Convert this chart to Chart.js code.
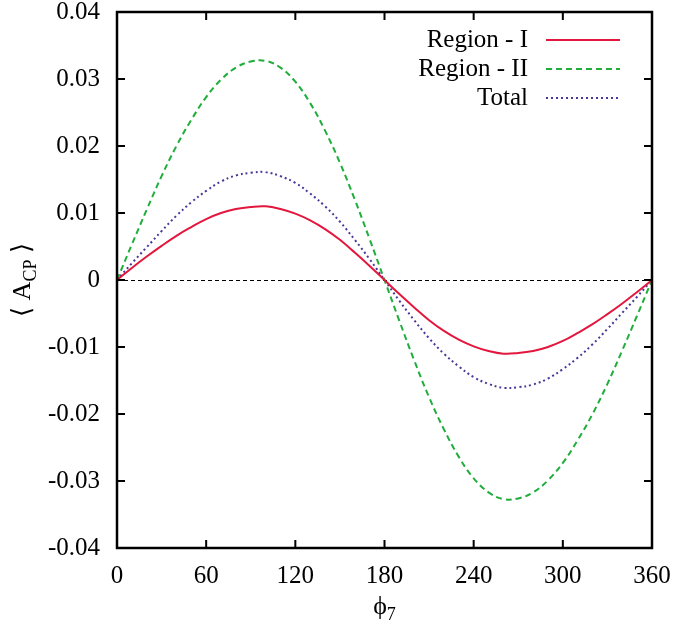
<!DOCTYPE html>
<html>
<head>
<meta charset="utf-8">
<script src="https://cdn.jsdelivr.net/npm/chart.js@4"></script>
<style>
  html, body { margin: 0; padding: 0; background: #fff; }
  #wrap { width: 674px; height: 635px; }
</style>
</head>
<body>
<div id="wrap"><canvas id="acpChart" width="674" height="635"></canvas></div>
<script>
// ---------------- DATA ----------------
const phi = [0, 10, 20, 30, 40, 50, 60, 70, 80, 90, 100, 110, 120, 130, 140, 150, 160, 170, 180,
             190, 200, 210, 220, 230, 240, 250, 260, 270, 280, 290, 300, 310, 320, 330, 340, 350, 360];

const regionI = [0, 0.0018, 0.0035, 0.0051, 0.0066, 0.0079, 0.0091, 0.0100, 0.0106, 0.0109, 0.0110,
                 0.0106, 0.0099, 0.0089, 0.0076, 0.0060, 0.0041, 0.0021, 0,
                 -0.0021, -0.0041, -0.0060, -0.0076, -0.0089, -0.0099, -0.0106, -0.0110, -0.0109,
                 -0.0106, -0.0100, -0.0091, -0.0079, -0.0066, -0.0051, -0.0035, -0.0018, 0];

const regionII = [0, 0.0053, 0.0105, 0.0155, 0.0200, 0.0239, 0.0273, 0.0299, 0.0317, 0.0326, 0.0327,
                  0.0317, 0.0296, 0.0264, 0.0223, 0.0175, 0.0120, 0.0061, 0,
                  -0.0061, -0.0120, -0.0175, -0.0223, -0.0264, -0.0296, -0.0317, -0.0327, -0.0326,
                  -0.0317, -0.0299, -0.0273, -0.0239, -0.0200, -0.0155, -0.0105, -0.0053, 0];

const total = [0, 0.0025, 0.0049, 0.0073, 0.0096, 0.0116, 0.0133, 0.0147, 0.0156, 0.0160, 0.0161,
               0.0155, 0.0145, 0.0129, 0.0110, 0.0087, 0.0060, 0.0031, 0,
               -0.0031, -0.0060, -0.0087, -0.0110, -0.0129, -0.0145, -0.0155, -0.0161, -0.0160,
               -0.0156, -0.0147, -0.0133, -0.0116, -0.0096, -0.0073, -0.0049, -0.0025, 0];

const seriesNames = ["Region - I", "Region - II", "Total"];
const xTicks = [0, 60, 120, 180, 240, 300, 360];
const yTicks = [-0.04, -0.03, -0.02, -0.01, 0, 0.01, 0.02, 0.03, 0.04];

const FONT = "'Liberation Serif', 'DejaVu Serif', serif";

function pts(vals) {
  return phi.map((x, i) => ({ x: x, y: vals[i] }));
}

// ---------------- PLUGIN: frame, ticks, legend, labels ----------------
const decor = {
  id: "decor",
  beforeDatasetsDraw(chart) {
    const { ctx, chartArea: a, scales: { y } } = chart;
    const y0 = Math.round(y.getPixelForValue(0)) + 0.5;
    ctx.save();
    ctx.strokeStyle = "#000";
    ctx.lineWidth = 1;
    ctx.setLineDash([4, 3]);
    ctx.beginPath();
    ctx.moveTo(a.left, y0);
    ctx.lineTo(a.right, y0);
    ctx.stroke();
    ctx.restore();
  },
  afterDatasetsDraw(chart) {
    const { ctx, chartArea: a, scales: { x, y } } = chart;
    ctx.save();
    ctx.strokeStyle = "#000";
    ctx.lineWidth = 2;
    ctx.setLineDash([]);

    // inward ticks on all four sides
    const tl = 8;
    ctx.beginPath();
    xTicks.forEach(v => {
      const px = x.getPixelForValue(v);
      ctx.moveTo(px, a.bottom); ctx.lineTo(px, a.bottom - tl);
      ctx.moveTo(px, a.top); ctx.lineTo(px, a.top + tl);
    });
    yTicks.forEach(v => {
      const py = y.getPixelForValue(v);
      ctx.moveTo(a.left, py); ctx.lineTo(a.left + tl, py);
      ctx.moveTo(a.right, py); ctx.lineTo(a.right - tl, py);
    });
    ctx.stroke();

    ctx.lineWidth = 2.5;
    ctx.strokeRect(a.left, a.top, a.right - a.left, a.bottom - a.top);

    // legend (text left, sample right)
    ctx.font = "25px " + FONT;
    ctx.fillStyle = "#000";
    ctx.textAlign = "right";
    ctx.textBaseline = "middle";
    chart.data.datasets.forEach((ds, i) => {
      const ly = a.top + 28 + i * 29;
      ctx.fillText(ds.label, a.right - 124, ly);
      ctx.strokeStyle = ds.borderColor;
      ctx.lineWidth = ds.borderWidth;
      ctx.setLineDash(ds.borderDash || []);
      ctx.beginPath();
      ctx.moveTo(a.right - 106, ly);
      ctx.lineTo(a.right - 32, ly);
      ctx.stroke();
    });
    ctx.setLineDash([]);

    // x axis title: phi_7
    const cx = (a.left + a.right) / 2;
    ctx.fillStyle = "#000";
    ctx.textAlign = "left";
    ctx.textBaseline = "alphabetic";
    ctx.font = "26px " + FONT;
    const wPhi = ctx.measureText("\u03D5").width;
    ctx.font = "18px " + FONT;
    const w7 = ctx.measureText("7").width;
    const sx = cx - (wPhi + w7) / 2;
    ctx.font = "26px " + FONT;
    ctx.fillText("\u03D5", sx, 614);
    ctx.font = "18px " + FONT;
    ctx.fillText("7", sx + wPhi, 620);

    // y axis title: < A_CP >
    ctx.save();
    ctx.translate(30, (a.top + a.bottom) / 2);
    ctx.rotate(-Math.PI / 2);
    const parts = [
      { t: "\u27E8 A", f: "26px " + FONT, dy: 0 },
      { t: "CP", f: "18px " + FONT, dy: 6 },
      { t: " \u27E9", f: "26px " + FONT, dy: 0 }
    ];
    let tw = 0;
    parts.forEach(p => { ctx.font = p.f; p.w = ctx.measureText(p.t).width; tw += p.w; });
    let px = -tw / 2;
    parts.forEach(p => {
      ctx.font = p.f;
      ctx.fillText(p.t, px, p.dy);
      px += p.w;
    });
    ctx.restore();

    ctx.restore();
  }
};

// ---------------- CHART ----------------
const ctx = document.getElementById("acpChart").getContext("2d");

const chart = new Chart(ctx, {
  type: "line",
  data: {
    datasets: [
      {
        label: seriesNames[0],
        data: pts(regionI),
        borderColor: "#e3173e",
        borderWidth: 2,
        pointRadius: 0,
        fill: false,
        tension: 0.4
      },
      {
        label: seriesNames[1],
        data: pts(regionII),
        borderColor: "#1fae3c",
        borderWidth: 2,
        borderDash: [6, 4],
        pointRadius: 0,
        fill: false,
        tension: 0.4
      },
      {
        label: seriesNames[2],
        data: pts(total),
        borderColor: "#4b3699",
        borderWidth: 2,
        borderDash: [2, 3],
        pointRadius: 0,
        fill: false,
        tension: 0.4
      }
    ]
  },
  options: {
    responsive: false,
    animation: false,
    layout: { padding: { left: 0, top: 12, right: 22, bottom: 0 } },
    plugins: {
      legend: { display: false },
      tooltip: { enabled: false }
    },
    scales: {
      x: {
        type: "linear",
        min: 0,
        max: 360,
        afterBuildTicks: s => { s.ticks = xTicks.map(v => ({ value: v })); },
        afterFit: s => { s.height = 87; s.paddingLeft = 0; s.paddingRight = 0; },
        grid: { display: false, drawTicks: false },
        border: { display: false },
        ticks: {
          padding: 13,
          color: "#000",
          font: { family: FONT, size: 25 },
          maxRotation: 0,
          callback: v => String(v)
        }
      },
      y: {
        min: -0.04,
        max: 0.04,
        afterBuildTicks: s => { s.ticks = yTicks.map(v => ({ value: v })); },
        afterFit: s => { s.width = 117; s.paddingTop = 0; s.paddingBottom = 0; },
        grid: { display: false, drawTicks: false },
        border: { display: false },
        ticks: {
          padding: 17,
          color: "#000",
          font: { family: FONT, size: 25 },
          callback: v => (Math.abs(v) < 1e-9 ? "0" : v.toFixed(2))
        }
      }
    }
  },
  plugins: [decor]
});
</script>
</body>
</html>
